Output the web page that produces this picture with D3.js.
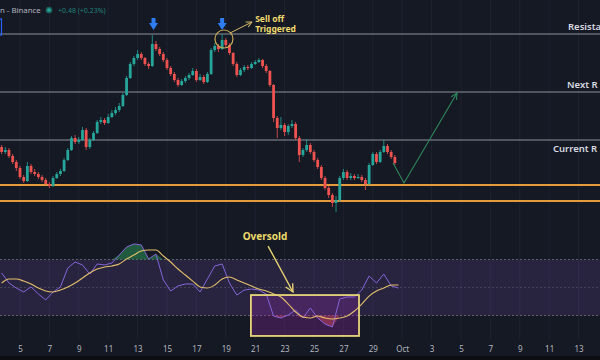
<!DOCTYPE html>
<html>
<head>
<meta charset="utf-8">
<script src="https://cdn.jsdelivr.net/npm/d3@7"></script>
<style>
  body { margin: 0; background: #151924; }
  svg { display: block; font-family: "Noto Sans", sans-serif; }
</style>
</head>
<body>
<script>
// 6h candles, open = previous close
const candleStart = new Date(2019, 8, 3, 18);
const candleHours = 6;
const firstOpen = 203.25;
const closes = [
  202.00, 202.50, 201.00, 199.50, 198.00, 195.75, 194.75, 198.50, 197.00, 196.50,
  195.75, 195.00, 194.00, 193.50, 195.50, 196.50, 197.25, 200.00, 202.50, 205.50,
  204.50, 205.00, 207.50, 203.25, 205.00, 206.75, 209.50, 210.00, 209.25, 210.75,
  211.75, 212.50, 213.50, 216.25, 220.50, 224.00, 225.50, 226.50, 225.50, 224.00,
  223.50, 229.00, 227.75, 226.50, 225.00, 223.00, 221.50, 220.00, 218.75, 219.75,
  220.50, 221.25, 222.25, 220.00, 220.75, 219.50, 221.50, 227.50, 228.50, 227.75,
  230.00, 228.75, 226.75, 224.00, 221.25, 222.50, 223.25, 223.00, 224.00, 224.50,
  225.00, 223.50, 222.25, 218.75, 210.50, 208.00, 208.75, 207.00, 208.50, 209.00,
  205.50, 201.25, 202.50, 203.75, 202.00, 200.00, 198.25, 195.50, 193.00, 191.25,
  189.25, 190.00, 195.50, 197.00, 195.50, 196.00, 195.50, 195.75, 195.00, 194.00,
  198.75, 201.50, 199.50, 202.00, 203.50, 202.00, 200.75, 199.25
];
const highs = [
  203.75, 203.25, 203.00, 201.50, 200.00, 198.50, 196.25, 199.50, 199.00, 197.75,
  197.00, 196.25, 195.50, 194.50, 196.00, 197.00, 197.75, 200.50, 203.00, 206.00,
  206.25, 205.75, 208.25, 208.00, 205.50, 207.25, 210.00, 210.75, 210.50, 211.50,
  212.50, 213.25, 214.25, 216.75, 221.00, 224.50, 226.00, 227.50, 227.00, 225.75,
  224.50, 231.25, 229.75, 228.25, 227.00, 225.50, 223.50, 222.00, 220.50, 220.25,
  221.00, 221.75, 223.00, 222.75, 221.50, 221.25, 222.00, 228.00, 229.25, 229.00,
  231.50, 230.50, 229.25, 227.00, 224.50, 223.00, 223.75, 223.75, 224.50, 225.00,
  225.50, 225.25, 224.00, 222.50, 219.00, 211.00, 210.75, 209.25, 209.00, 210.00,
  209.50, 206.00, 203.00, 205.25, 204.25, 202.50, 200.50, 198.75, 196.00, 193.50,
  191.75, 191.00, 196.00, 197.75, 197.50, 196.75, 196.50, 196.50, 196.25, 195.50,
  199.25, 202.00, 202.00, 202.50, 205.00, 204.00, 202.50, 201.25
];
const lows = [
  201.50, 201.50, 200.50, 199.00, 197.25, 195.25, 194.25, 194.50, 196.50, 196.00,
  195.25, 194.50, 193.75, 193.00, 193.25, 195.25, 196.00, 197.00, 199.75, 202.25,
  204.00, 204.00, 204.75, 202.50, 202.75, 204.75, 206.50, 209.00, 208.75, 209.00,
  210.50, 211.25, 212.00, 213.25, 216.00, 220.25, 223.50, 225.00, 225.00, 223.50,
  222.75, 223.25, 227.25, 226.00, 224.50, 222.50, 221.00, 219.50, 218.25, 218.50,
  219.25, 220.00, 221.00, 219.50, 219.75, 219.00, 219.25, 221.25, 227.00, 227.00,
  227.50, 228.25, 226.25, 223.50, 220.75, 221.00, 222.00, 222.50, 222.75, 223.75,
  224.25, 223.00, 221.75, 218.25, 209.50, 205.50, 207.50, 206.00, 206.25, 208.00,
  205.00, 199.50, 200.75, 202.00, 201.50, 199.50, 197.75, 195.00, 192.50, 190.50,
  188.25, 187.00, 189.50, 195.00, 195.00, 195.00, 195.00, 195.25, 194.50, 192.50,
  193.75, 198.50, 199.00, 199.25, 201.75, 201.50, 200.25, 198.75
];

// RSI (12h samples) and its moving average
const rsiStart = new Date(2019, 8, 3, 18);
const rsiHours = 12;
const rsiValues = [
  60.4, 53.2, 49.6, 46.8, 50.4, 45.4, 41.1, 46.8, 50.4, 63.9,
  68.2, 66.1, 59.6, 66.8, 66.1, 67.5, 73.2, 78.9, 81.1, 80.4,
  70.4, 73.9, 55.4, 47.5, 51.1, 52.5, 52.5, 46.8, 56.1, 65.4,
  66.8, 53.2, 44.6, 48.2, 48.9, 48.2, 45.4, 29.6, 28.2, 30.4,
  33.9, 28.2, 35.4, 28.2, 23.9, 21.8, 41.8, 43.2, 43.2, 48.2,
  58.2, 53.2, 59.6, 51.1, 49.6
];
const rsiMA = [
  53.2, 56.1, 56.1, 54.6, 52.5, 49.6, 47.5, 46.8, 48.2, 50.4,
  53.2, 56.8, 60.4, 63.2, 64.6, 65.4, 66.8, 70.4, 73.2, 76.1,
  76.8, 76.8, 72.5, 68.2, 63.2, 58.9, 54.6, 50.4, 49.6, 51.8,
  56.1, 57.5, 55.4, 53.2, 51.1, 48.9, 47.5, 45.4, 43.2, 38.2,
  32.5, 28.9, 28.2, 29.6, 28.2, 27.5, 28.2, 29.6, 33.2, 38.2,
  43.9, 47.5, 49.6, 51.8, 51.8
];

// levels (labels as visible at the chart's right edge)
const levelNames = ["Resista", "Next R", "Current R"];
const levelPrices = [231.5, 217.0, 205.0];
const supportPrices = [193.75, 189.75];

// x axis ticks
const tickDays = ["2019-09-05", "2019-09-07", "2019-09-09", "2019-09-11", "2019-09-13",
  "2019-09-15", "2019-09-17", "2019-09-19", "2019-09-21", "2019-09-23", "2019-09-25",
  "2019-09-27", "2019-09-29", "2019-10-01", "2019-10-03", "2019-10-05", "2019-10-07",
  "2019-10-09", "2019-10-11", "2019-10-13"];
const tickLabels = ["5", "7", "9", "11", "13", "15", "17", "19", "21", "23", "25", "27",
  "29", "Oct", "3", "5", "7", "9", "11", "13"];

// projected path
const projDates = ["2019-09-30 09:00", "2019-10-01 03:00", "2019-10-04 17:30"];
const projPrices = [199.25, 194.25, 216.75];

// tops marked with arrows
const topDates = ["2019-09-14 02:00", "2019-09-18 18:00"];

const width = 600;
const height = 360;

const parseDay = d3.timeParse("%Y-%m-%d");
const parseTime = d3.timeParse("%Y-%m-%d %H:%M");

const candles = closes.map((c, i) => ({
  date: d3.timeHour.offset(candleStart, i * candleHours),
  open: i === 0 ? firstOpen : closes[i - 1],
  close: c,
  high: highs[i],
  low: lows[i]
}));
const rsiData = rsiValues.map((v, i) => ({
  date: d3.timeHour.offset(rsiStart, i * rsiHours), v: v, ma: rsiMA[i]
}));

const svg = d3.select("body")
  .append("svg")
  .attr("width", width)
  .attr("height", height);

const defs = svg.append("defs");
function marker(id, color) {
  defs.append("marker")
    .attr("id", id)
    .attr("viewBox", "0 0 10 10")
    .attr("refX", 9).attr("refY", 5)
    .attr("markerWidth", 7).attr("markerHeight", 7)
    .attr("orient", "auto")
    .append("path")
    .attr("d", "M1,1 L9,5 L1,9")
    .attr("fill", "none")
    .attr("stroke", color)
    .attr("stroke-width", 1.4);
}
marker("arrGreen", "#2f8a5c");
marker("arrYellow", "#e6d270");
marker("arrTan", "#d2b868");

svg.append("rect").attr("width", width).attr("height", height).attr("fill", "#151924");
svg.append("rect").attr("y", 356).attr("width", width).attr("height", 4).attr("fill", "#0c0e14");

// X scale
const x = d3.scaleTime()
  .domain([parseDay("2019-09-05"), parseDay("2019-10-01")])
  .range([20, 402.2]);

// Y scales
const y = d3.scaleLinear().domain([180, 240]).range([240, 0]);
const yRsi = d3.scaleLinear().domain([30, 70]).range([315.5, 259.5]);

const tickDates = tickDays.map(parseDay);

// vertical grid
svg.append("g")
  .selectAll("line")
  .data(tickDates)
  .enter()
  .append("line")
  .attr("x1", d => x(d)).attr("x2", d => x(d))
  .attr("y1", 0).attr("y2", 340)
  .attr("stroke", "#1e2230")
  .attr("stroke-width", 1);

// RSI band
svg.append("rect")
  .attr("x", 0).attr("width", width)
  .attr("y", yRsi(70)).attr("height", yRsi(30) - yRsi(70))
  .attr("fill", "#7e57c2").attr("fill-opacity", 0.18);

svg.append("g")
  .selectAll("line")
  .data([70, 50, 30])
  .enter()
  .append("line")
  .attr("x1", 0).attr("x2", width)
  .attr("y1", d => yRsi(d)).attr("y2", d => yRsi(d))
  .attr("stroke", "#787b86")
  .attr("stroke-opacity", d => d === 50 ? 0.35 : 0.7)
  .attr("stroke-dasharray", "2,2");

// resistance lines
svg.append("g")
  .selectAll("line")
  .data(levelPrices)
  .enter()
  .append("line")
  .attr("x1", 0).attr("x2", width)
  .attr("y1", d => y(d)).attr("y2", d => y(d))
  .attr("stroke", "#8f929b")
  .attr("stroke-width", 1);

// support lines
svg.append("g")
  .selectAll("line")
  .data(supportPrices)
  .enter()
  .append("line")
  .attr("x1", 0).attr("x2", width)
  .attr("y1", d => y(d)).attr("y2", d => y(d))
  .attr("stroke", "#e39b3b")
  .attr("stroke-width", 2);

// level labels
const labelX = [568, 567, 553];
const labelDy = [-4, -4, 12];
svg.append("g")
  .selectAll("text")
  .data(levelNames)
  .enter()
  .append("text")
  .attr("x", (d, i) => labelX[i])
  .attr("y", (d, i) => y(levelPrices[i]) + labelDy[i])
  .attr("fill", "#d8dae0")
  .attr("font-size", 9.5)
  .attr("font-weight", 600)
  .text(d => d);

// candles
const bodyW = 2.8;
const cg = svg.append("g");
cg.selectAll("line")
  .data(candles)
  .enter()
  .append("line")
  .attr("x1", d => x(d.date)).attr("x2", d => x(d.date))
  .attr("y1", d => y(d.high)).attr("y2", d => y(d.low))
  .attr("stroke", d => d.close >= d.open ? "#26a69a" : "#ef5350")
  .attr("stroke-width", 0.8);
cg.selectAll("rect")
  .data(candles)
  .enter()
  .append("rect")
  .attr("x", d => x(d.date) - bodyW / 2)
  .attr("width", bodyW)
  .attr("y", d => y(Math.max(d.open, d.close)))
  .attr("height", d => Math.max(1, Math.abs(y(d.open) - y(d.close))))
  .attr("fill", d => d.close >= d.open ? "#26a69a" : "#ef5350");

// projected move
const proj = projDates.map((d, i) => ({date: parseTime(d), price: projPrices[i]}));
svg.append("path")
  .datum(proj)
  .attr("fill", "none")
  .attr("stroke", "#2f8a5c")
  .attr("stroke-width", 1.1)
  .attr("marker-end", "url(#arrGreen)")
  .attr("d", d3.line().x(d => x(d.date)).y(d => y(d.price)));

// blue arrows at the tops
svg.append("g")
  .selectAll("path")
  .data(topDates.map(parseTime))
  .enter()
  .append("path")
  .attr("transform", d => `translate(${x(d)},${y(234)})`)
  .attr("d", "M-2,-6 L2,-6 L2,-1 L4.5,-1 L0,6 L-4.5,-1 L-2,-1 Z")
  .attr("fill", "#2f7cf3");

// sell off note
svg.append("circle")
  .attr("cx", x(parseTime("2019-09-18 21:00")))
  .attr("cy", y(230.25))
  .attr("r", 9)
  .attr("fill", "none")
  .attr("stroke", "#c9a957")
  .attr("stroke-width", 1.2);
svg.append("line")
  .attr("x1", x(parseTime("2019-09-19 07:00"))).attr("y1", y(231.75))
  .attr("x2", x(parseTime("2019-09-20 18:40"))).attr("y2", y(234.5))
  .attr("stroke", "#d2b868")
  .attr("stroke-width", 1)
  .attr("marker-end", "url(#arrTan)");
svg.append("text")
  .attr("x", x(parseDay("2019-09-21"))).attr("y", y(234.5))
  .attr("fill", "#f1dc6e").attr("font-size", 8.5).attr("font-weight", 700)
  .text("Sell off");
svg.append("text")
  .attr("x", x(parseDay("2019-09-21"))).attr("y", y(232.1))
  .attr("fill", "#f1dc6e").attr("font-size", 8.5).attr("font-weight", 700)
  .text("Triggered");

// oversold box
const bx0 = x(parseTime("2019-09-20 17:00"));
const bx1 = x(parseTime("2019-09-28 01:30"));
svg.append("rect")
  .attr("x", bx0).attr("width", bx1 - bx0)
  .attr("y", yRsi(44.6)).attr("height", yRsi(15.4) - yRsi(44.6))
  .attr("fill", "#9c27b0").attr("fill-opacity", 0.28);

// RSI fills beyond 70 / 30
svg.append("path")
  .datum(rsiData)
  .attr("fill", "#2e9d5a").attr("fill-opacity", 0.5)
  .attr("d", d3.area().x(d => x(d.date)).y0(yRsi(70)).y1(d => yRsi(Math.max(d.v, 70))));
svg.append("path")
  .datum(rsiData)
  .attr("fill", "#e04a62").attr("fill-opacity", 0.45)
  .attr("d", d3.area().x(d => x(d.date)).y0(yRsi(30)).y1(d => yRsi(Math.min(d.v, 30))));

// RSI line
svg.append("path")
  .datum(rsiData)
  .attr("fill", "none")
  .attr("stroke", "#8566d8")
  .attr("stroke-width", 1)
  .attr("d", d3.line().x(d => x(d.date)).y(d => yRsi(d.v)));

// RSI MA line
svg.append("path")
  .datum(rsiData)
  .attr("fill", "none")
  .attr("stroke", "#e2bf6a")
  .attr("stroke-width", 1.1)
  .attr("d", d3.line().curve(d3.curveMonotoneX).x(d => x(d.date)).y(d => yRsi(d.ma)));

svg.append("rect")
  .attr("x", bx0).attr("width", bx1 - bx0)
  .attr("y", yRsi(44.6)).attr("height", yRsi(15.4) - yRsi(44.6))
  .attr("fill", "none")
  .attr("stroke", "#e8d57a").attr("stroke-width", 1.8);

// oversold note
svg.append("text")
  .attr("x", x(parseTime("2019-09-21 16:00"))).attr("y", yRsi(84))
  .attr("text-anchor", "middle")
  .attr("fill", "#eedb6c").attr("font-size", 10).attr("font-weight", 700)
  .text("Oversold");
svg.append("line")
  .attr("x1", x(parseTime("2019-09-21 21:00"))).attr("y1", yRsi(79.6))
  .attr("x2", x(parseTime("2019-09-23 13:40"))).attr("y2", yRsi(46.8))
  .attr("stroke", "#e6d270")
  .attr("stroke-width", 1.4)
  .attr("marker-end", "url(#arrYellow)");

// x-axis
const xAxis = svg.append("g")
  .attr("transform", "translate(0,340)")
  .call(d3.axisBottom(x).tickValues(tickDates).tickFormat((d, i) => tickLabels[i]).tickSize(0).tickPadding(6));
xAxis.select(".domain").remove();
xAxis.selectAll("text")
  .attr("fill", "#b2b5be")
  .attr("font-size", 8)
  .attr("font-family", "Noto Sans, sans-serif");

// legend header
svg.append("text")
  .attr("x", 0).attr("y", 13)
  .attr("fill", "#b2b5be").attr("font-size", 7.8)
  .text("n - Binance");
svg.append("circle")
  .attr("cx", 49).attr("cy", 10).attr("r", 2.6)
  .attr("fill", "#26a69a").attr("stroke", "#1d5f58").attr("stroke-width", 1.5);
svg.append("text")
  .attr("x", 58).attr("y", 12.5)
  .attr("fill", "#26a69a").attr("fill-opacity", 0.75).attr("font-size", 7)
  .text("+0.48 (+0.23%)");
svg.append("rect")
  .attr("x", -10).attr("y", 19).attr("width", 11.5).attr("height", 16)
  .attr("fill", "none").attr("stroke", "#2962ff").attr("stroke-width", 1.2);
</script>
</body>
</html>
